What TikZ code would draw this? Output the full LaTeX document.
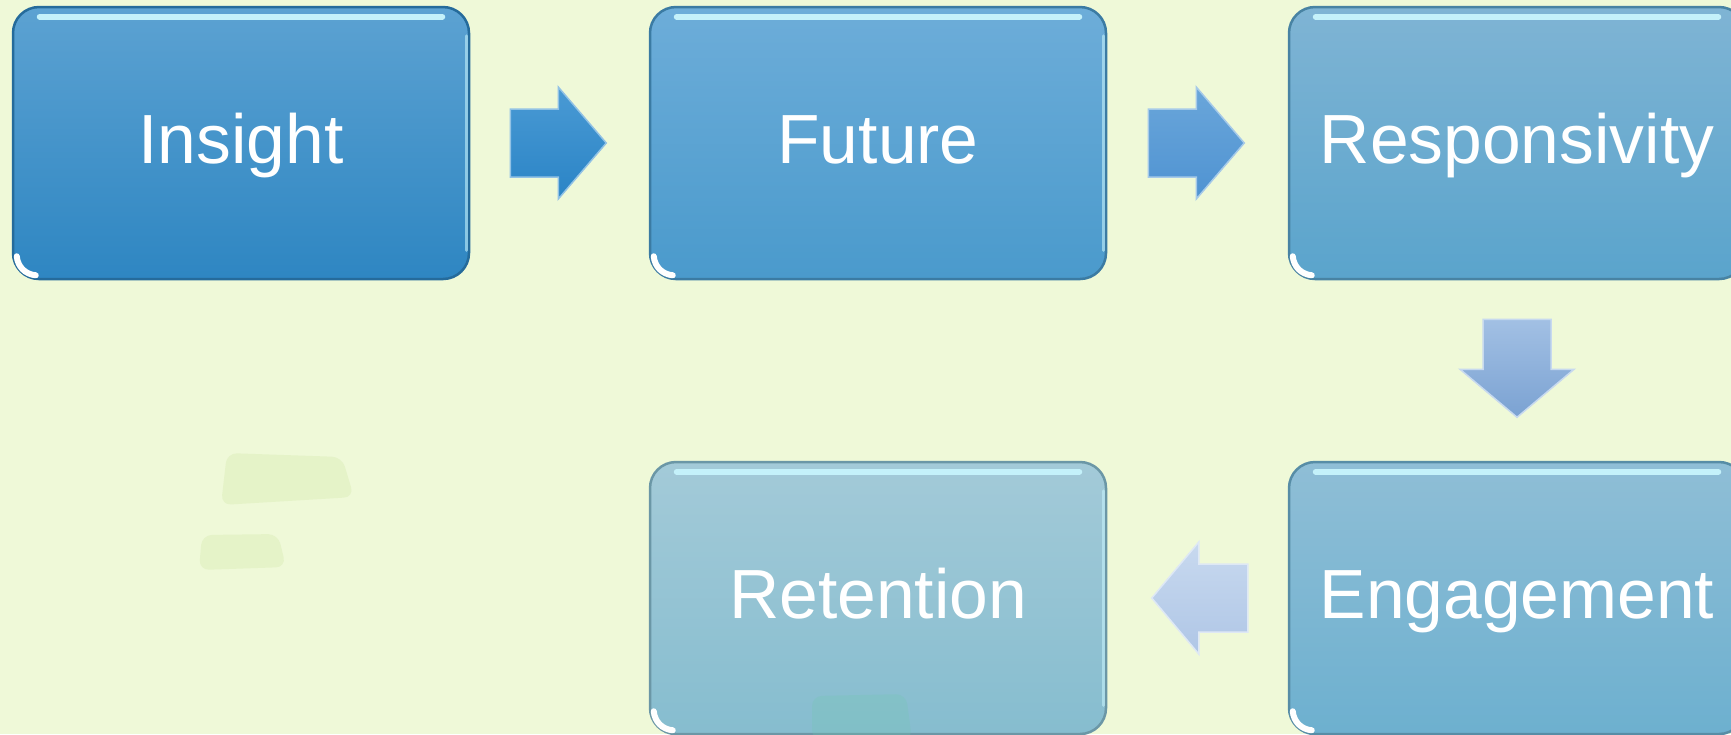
\documentclass[tikz,border=0pt]{standalone}
\usepackage{fontspec}
\setmainfont{Liberation Sans}
\usetikzlibrary{calc}

\definecolor{bgcol}{HTML}{EFF9D8}
\definecolor{blobcol}{HTML}{E5F3C8}
\definecolor{glosscol}{HTML}{C4F1FA}
\definecolor{insightTop}{HTML}{5CA2D2}
\definecolor{insightBot}{HTML}{2E86C2}
\definecolor{futureTop}{HTML}{6DADD9}
\definecolor{futureBot}{HTML}{4A9ACC}
\definecolor{respTop}{HTML}{7FB4D4}
\definecolor{respBot}{HTML}{5AA4CC}
\definecolor{engTop}{HTML}{8FBED6}
\definecolor{engBot}{HTML}{6DB0CF}
\definecolor{retTop}{HTML}{A3CAD8}
\definecolor{retBot}{HTML}{86BDCF}
\definecolor{arrOneTop}{HTML}{4A9AD4}
\definecolor{arrOneBot}{HTML}{2A84C6}
\definecolor{arrTwoTop}{HTML}{6AA6DA}
\definecolor{arrTwoBot}{HTML}{4F93D2}
\definecolor{arrDownTop}{HTML}{A2C0E4}
\definecolor{arrDownBot}{HTML}{7BA2D2}
\definecolor{arrLeftTop}{HTML}{C8D9EF}
\definecolor{arrLeftBot}{HTML}{AFC6E6}

\begin{document}
\begin{tikzpicture}[x=0.1mm, y=-0.1mm,
    stage/.style 2 args={rounded corners=2.6mm, minimum width=45.6mm, minimum height=27.2mm,
        top color=#1, bottom color=#2, draw=#2!80!black, line width=0.25mm,
        text=white, font=\fontsize{19.8}{24}\selectfont, text height=16pt, text depth=4.3pt},
    gloss/.style={draw=glosscol, line width=0.6mm, line cap=round},
    shine/.style={draw=white, line width=0.6mm, line cap=round},
    blockarrow/.style 2 args={top color=#1, bottom color=#2, draw=#1!60!white, line width=0.15mm}]
    \useasboundingbox (0,0) rectangle (1731,734);
    \clip (0,0) rectangle (1731,734);
    \fill[bgcol] (0,0) rectangle (1731,734);

    % faint marks left behind
    \fill[blobcol, rounded corners=1mm] (227,453) -- (342,457) -- (354,497) -- (221,505) -- cycle;
    \fill[blobcol, rounded corners=1mm] (202,535) -- (278,534) -- (286,567) -- (199,570) -- cycle;

    % stages
    \node[stage={insightTop}{insightBot}] at (241,143) (insight) {Insight};
    \node[stage={futureTop}{futureBot}] at (878,143) (future) {Future};
    \node[stage={respTop}{respBot}] at (1517,143) (resp) {Responsivity};
    \node[stage={engTop}{engBot}] at (1517,598) (eng) {Engagement};
    \node[stage={retTop}{retBot}] at (878,598) (ret) {Retention};

    \fill[retBot!85!green, opacity=0.25, rounded corners=1mm] (812,696) -- (906,694) -- (912,740) -- (812,740) -- cycle;

    \foreach \n in {insight,future,resp,eng,ret} {
        \draw[gloss] ($(\n.north west)+(28,11)$) -- ($(\n.north east)+(-28,11)$);
        \draw[gloss, line width=0.3mm, opacity=0.6] ($(\n.north east)+(-4,30)$) -- ($(\n.south east)+(-4,-30)$);
        \draw[shine] ($(\n.south west)+(5,-24)$) to[bend right=40] ($(\n.south west)+(24,-5)$);
    }

    % arrows between stages
    \filldraw[blockarrow={arrOneTop}{arrOneBot}] ($(insight.east)+(40,-34)$) -- ++(48,0) -- ++(0,-22)
        -- ++(48,56) -- ++(-48,56) -- ++(0,-22) -- ++(-48,0) -- cycle;
    \filldraw[blockarrow={arrTwoTop}{arrTwoBot}] ($(future.east)+(41,-34)$) -- ++(48,0) -- ++(0,-22)
        -- ++(48,56) -- ++(-48,56) -- ++(0,-22) -- ++(-48,0) -- cycle;
    \filldraw[blockarrow={arrDownTop}{arrDownBot}] ($(resp.south)+(-34,39)$) -- ++(68,0) -- ++(0,50)
        -- ++(23,0) -- ++(-57,48) -- ++(-57,-48) -- ++(23,0) -- cycle;
    \filldraw[blockarrow={arrLeftTop}{arrLeftBot}] ($(eng.west)+(-40,-34)$) -- ++(-49,0) -- ++(0,-22)
        -- ++(-47,56) -- ++(47,56) -- ++(0,-22) -- ++(49,0) -- cycle;
\end{tikzpicture}
\end{document}
